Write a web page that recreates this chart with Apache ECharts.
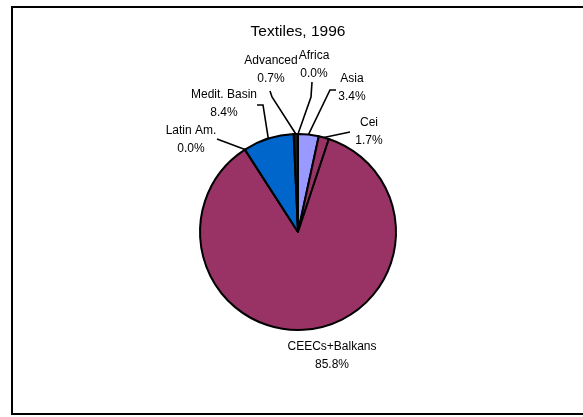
<!DOCTYPE html>
<html>
<head>
<meta charset="utf-8">
<script src="https://cdn.jsdelivr.net/npm/echarts@6/dist/echarts.min.js"></script>
<style>html,body{margin:0;padding:0;background:#fff}#c{width:583px;height:417px}</style>
</head>
<body>
<div id="c"></div>
<script>
const title = 'Textiles, 1996';
const categories = ['Africa', 'Asia', 'Cei', 'CEECs+Balkans', 'Latin Am.', 'Medit. Basin', 'Advanced'];
const shares = [0.0, 3.4, 1.7, 85.8, 0.0, 8.4, 0.7];
const colors = ['#9999FF', '#9999FF', '#993366', '#993366', '#993366', '#0066CC', '#1a1a1a'];

// label placement (annotation layout, as in the original manual placement)
const labelAt = {
  'Africa': { x: 314, y: 65, line: [[311, 97], [312, 82]] },
  'Asia': { x: 352, y: 88, line: [[330, 90], [336, 90]] },
  'Cei': { x: 369, y: 132, line: [[350, 132]] },
  'CEECs+Balkans': { x: 332, y: 356, line: null },
  'Latin Am.': { x: 191, y: 140, line: [[217, 139]] },
  'Medit. Basin': { x: 224, y: 104, line: [[263, 105], [257, 105]] },
  'Advanced': { x: 271, y: 70, line: [[272, 97], [270, 91]] }
};

const chart = echarts.init(document.getElementById('c'), null, { renderer: 'canvas' });
const data = categories.map((name, i) => ({
  name: name,
  value: shares[i],
  itemStyle: { color: colors[i] },
  labelLine: { show: labelAt[name].line !== null }
}));

chart.setOption({
  animation: false,
  backgroundColor: '#ffffff',
  graphic: [
    { type: 'rect', shape: { x: 12, y: 7, width: 620, height: 407 },
      style: { fill: 'none', stroke: '#000', lineWidth: 2 }, z: 0 },
    { type: 'text', x: 298, y: 32,
      style: { text: title, fontFamily: 'Liberation Sans, Arial, sans-serif', fontSize: 15.5,
               fill: '#000', align: 'center', verticalAlign: 'middle' } }
  ],
  series: [{
    type: 'pie',
    center: [298, 232],
    radius: 98,
    startAngle: 90,
    clockwise: true,
    avoidLabelOverlap: false,
    data: data,
    itemStyle: { borderColor: '#000', borderWidth: 2 },
    emphasis: { disabled: true },
    label: {
      show: true,
      position: 'outside',
      fontFamily: 'Liberation Sans, Arial, sans-serif',
      fontSize: 12,
      lineHeight: 18,
      color: '#000',
      align: 'center',
      formatter: p => p.name + '\n' + Number(p.value).toFixed(1) + '%'
    },
    labelLine: { show: true, length: 10, length2: 10, lineStyle: { color: '#000', width: 1.6 } },
    labelLayout: function (params) {
      const name = categories[params.dataIndex];
      const a = labelAt[name];
      const out = { x: a.x, y: a.y, align: 'center', verticalAlign: 'middle' };
      if (a.line && params.labelLinePoints) {
        out.labelLinePoints = [params.labelLinePoints[0]].concat(a.line);
      }
      return out;
    }
  }]
});
</script>
</body>
</html>
